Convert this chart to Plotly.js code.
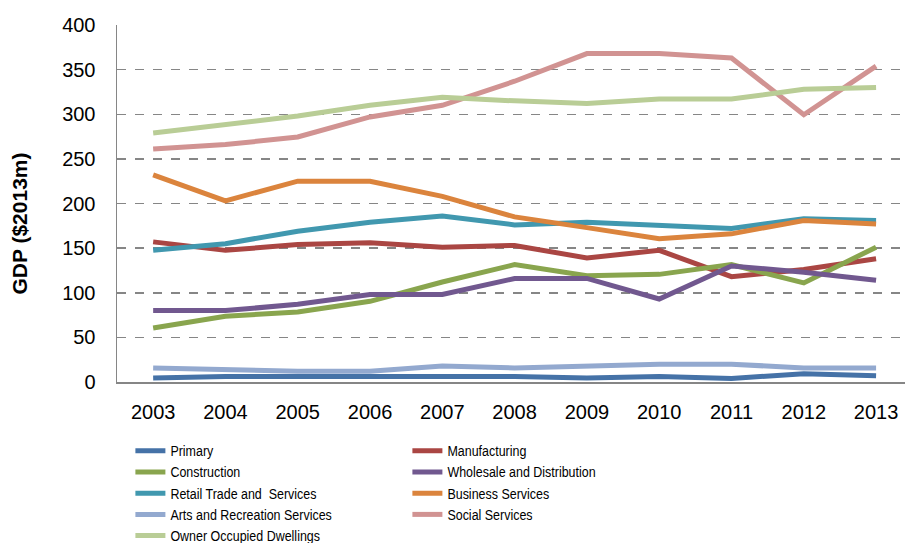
<!DOCTYPE html>
<html>
<head>
<meta charset="utf-8">
<script src="https://cdn.plot.ly/plotly-3.0.1.min.js"></script>
<style>html,body{margin:0;padding:0;background:#fff;}#chart{width:905px;height:543px;}</style>
</head>
<body>
<div id="chart"></div>
<script>
var years = ['2003','2004','2005','2006','2007','2008','2009','2010','2011','2012','2013'];

var primary       = [4.5, 6.3, 6.3, 6.3, 7, 6.3, 4.5, 6.3, 4, 9.3, 7];
var manufacturing = [157, 147.5, 154, 156, 151, 153, 139, 147.5, 118, 126, 138];
var construction  = [60.5, 73.6, 78.4, 90.4, 112, 131.5, 119, 120.6, 131.5, 111, 151];
var wholesale     = [80, 80, 87, 98, 98, 116, 116, 93, 130, 123, 114];
var retail        = [147.5, 155, 169, 179, 186, 176, 179, 176, 172, 183, 181];
var business      = [232, 203, 225, 225, 208, 185, 173, 160.6, 166, 181, 177];
var arts          = [15.7, 14, 12, 12, 18, 15.7, 18, 20, 20, 15.7, 15.7];
var social        = [261, 266, 274.5, 297, 310, 337, 368, 368, 363, 299.5, 354];
var owner         = [279, 289, 298, 310, 319, 315, 312, 317, 317, 328, 330];

var seriesNames = ['Primary','Manufacturing','Construction','Wholesale and Distribution',
  'Retail Trade and  Services','Business Services','Arts and Recreation Services',
  'Social Services','Owner Occupied Dwellings'];
var seriesData = [primary, manufacturing, construction, wholesale, retail, business, arts, social, owner];
var seriesColors = ['#4572A7','#AA4643','#89A54E','#71588F','#4198AF','#DB843D','#93A9CF','#D19392','#B9CD96'];

var traces = seriesNames.map(function(n, i){
  return {
    type: 'scatter', mode: 'lines', name: n,
    x: years, y: seriesData[i],
    line: {color: seriesColors[i], width: 5}
  };
});

var layout = {
  width: 905, height: 543,
  margin: {l: 117, r: 0, t: 25, b: 161, autoexpand: false},
  paper_bgcolor: '#fff', plot_bgcolor: '#fff',
  font: {family: 'Liberation Sans, Arial, sans-serif', color: '#000'},
  showlegend: true,
  xaxis: {
    type: 'category', range: [-0.5, 10.4],
    showgrid: false, zeroline: false,
    showline: true, linecolor: '#868686', linewidth: 1.5,
    ticks: '', ticklabelstandoff: 11,
    tickfont: {size: 20, color: '#000'}
  },
  yaxis: {
    range: [0, 400], dtick: 50,
    showgrid: true, gridcolor: '#868686', gridwidth: 1.5, griddash: 'dash',
    zeroline: false,
    showline: true, linecolor: '#868686', linewidth: 1.5,
    ticks: '', ticklabelstandoff: 16,
    tickfont: {size: 20, color: '#000'}
  },
  annotations: [{
    text: '<b>GDP ($2013m)</b>', textangle: -90,
    xref: 'paper', yref: 'paper', x: -0.1235, y: 0.443,
    xanchor: 'center', yanchor: 'middle', showarrow: false,
    font: {size: 21, color: '#000', family: 'Liberation Sans, Arial, sans-serif'}
  }],
  legend: {
    orientation: 'h', x: 0.017, xanchor: 'left', y: -0.149, yanchor: 'top',
    entrywidth: 232, entrywidthmode: 'pixels',
    font: {size: 14, family: 'Liberation Sans, Arial, sans-serif', color: '#000'},
    tracegroupgap: 0
  }
};

Plotly.newPlot('chart', traces, layout, {displayModeBar: false, staticPlot: true}).then(function(gd){
  // condense legend glyphs horizontally, like the narrow face of the original
  var texts = gd.querySelectorAll('.legendtext');
  texts.forEach(function(t){
    var len = t.getComputedTextLength();
    t.setAttribute('textLength', (len * 0.89).toFixed(1));
    t.setAttribute('lengthAdjust', 'spacingAndGlyphs');
  });
});
</script>
</body>
</html>
